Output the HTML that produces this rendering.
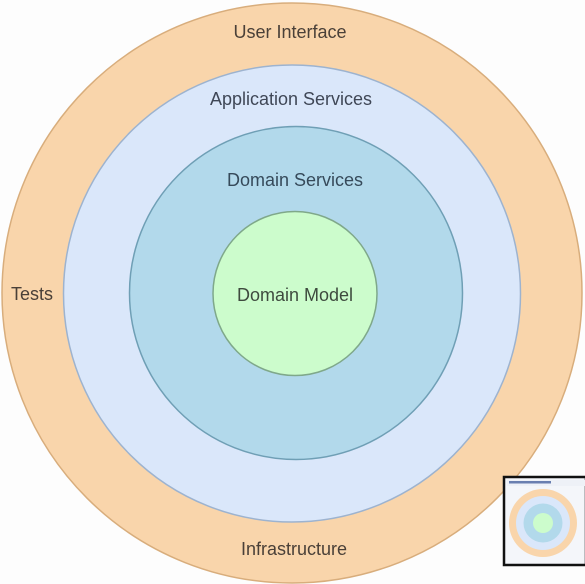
<!DOCTYPE html>
<html><head><meta charset="utf-8"><style>
html,body{margin:0;padding:0;background:#fff;}
svg{display:block;}
text{font-family:"Liberation Sans",Arial,sans-serif;font-size:18px;text-anchor:middle;}
</style></head><body>
<svg width="585" height="584" viewBox="0 0 585 584">
<rect width="585" height="584" fill="#fdfdfd"/>
<circle cx="292" cy="293" r="290" fill="#f9d5ab" stroke="#d8ad7c" stroke-width="1.5"/>
<circle cx="292" cy="293.5" r="228.5" fill="#dae7fa" stroke="#9db3cf" stroke-width="1.5"/>
<circle cx="296" cy="293" r="166.5" fill="#b2d9eb" stroke="#6f9fb5" stroke-width="1.5"/>
<circle cx="295" cy="293.5" r="82" fill="#ccfccc" stroke="#7fa88a" stroke-width="1.5"/>
<text x="290" y="38" fill="#4a4038">User Interface</text>
<text x="291" y="105" fill="#3f4756">Application Services</text>
<text x="295" y="186" fill="#364a5a">Domain Services</text>
<text x="295" y="301" fill="#3e4a3e">Domain Model</text>
<text x="32" y="300" fill="#4a4038">Tests</text>
<text x="294" y="555" fill="#4a4038">Infrastructure</text>
<g>
<rect x="504" y="477" width="82" height="88" fill="#f4f6fa" stroke="#111" stroke-width="2.5"/>
<rect x="507" y="480" width="78" height="6" fill="#eef1f7"/>
<rect x="509" y="481" width="42" height="2.5" fill="#6a7fb0"/>
<circle cx="543" cy="523" r="34" fill="#f9d5ab"/>
<circle cx="543" cy="523" r="27" fill="#dae7fa"/>
<circle cx="543" cy="523" r="19.5" fill="#b2d9eb"/>
<circle cx="543" cy="523" r="10" fill="#ccfccc"/>
</g>
</svg>
</body></html>
